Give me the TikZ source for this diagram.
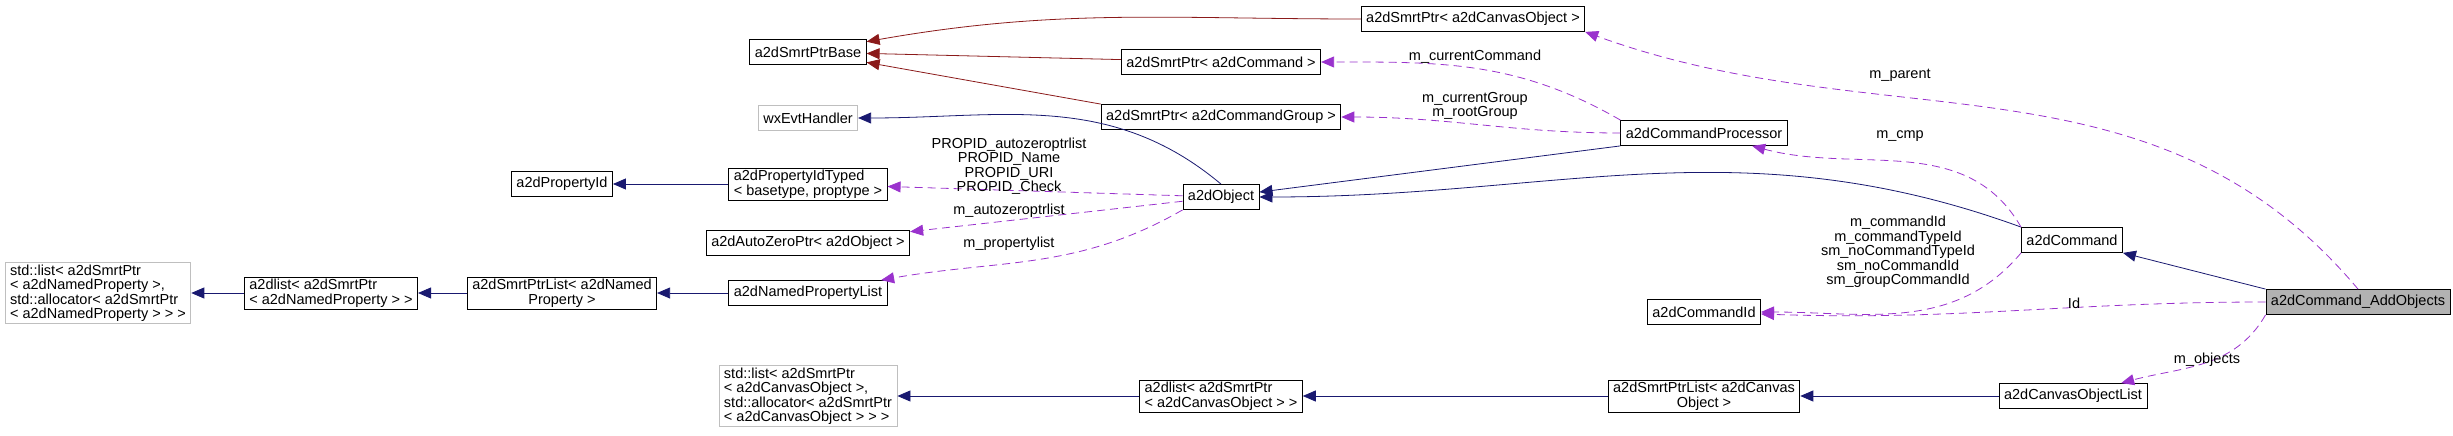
\documentclass[tikz,border=0pt]{standalone}
\usepackage{fontspec}
\setmainfont{Liberation Sans}
\usetikzlibrary{arrows.meta}
\definecolor{inhblue}{HTML}{191970}
\definecolor{tmplred}{HTML}{8B1A1A}
\definecolor{usepurple}{HTML}{9A32CD}
\tikzset{
  cls/.style={draw, thick, fill=white, minimum height=25pt, inner xsep=5pt, inner ysep=2pt, font=\fontsize{14.5}{14.5}\selectfont},
  ext/.style={cls, draw=gray!50},
  main/.style={cls, fill=gray!60},
  inh/.style={-{Triangle[length=13pt,width=11pt]}, thick, inhblue},
  tmpl/.style={-{Triangle[length=13pt,width=11pt]}, thick, tmplred},
  use/.style={-{Triangle[length=13pt,width=11pt]}, thick, dashed, dash pattern=on 8pt off 5pt, usepurple},
  lbl/.style={font=\fontsize{14.5}{14.5}\selectfont, align=center, inner sep=0pt}
}
\begin{document}
\begin{tikzpicture}[x=1pt, y=1pt]
\useasboundingbox (0,0) rectangle (2453,-436);

	% left column
	\node [ext, align=left] (stdlistNP) at (98,-293) {std::list< a2dSmrtPtr\\< a2dNamedProperty >,\\ std::allocator< a2dSmrtPtr\\< a2dNamedProperty > > >};
	\node [cls, align=left] (listNP) at (331,-293) {a2dlist< a2dSmrtPtr\\< a2dNamedProperty > >};
	\node [cls, align=center] (ptrlistNP) at (562,-293) {a2dSmrtPtrList< a2dNamed\\Property >};
	\node [cls] (propid) at (562,-184) {a2dPropertyId};

	% second column
	\node [cls] (ptrbase) at (808,-52) {a2dSmrtPtrBase};
	\node [ext] (evt) at (808,-118) {wxEvtHandler};
	\node [cls, align=left] (propidtyped) at (808,-184) {a2dPropertyIdTyped\\< basetype, proptype >};
	\node [cls] (autozero) at (808,-243) {a2dAutoZeroPtr< a2dObject >};
	\node [cls] (proplist) at (808,-293) {a2dNamedPropertyList};
	\node [ext, align=left] (stdlistCO) at (808,-396) {std::list< a2dSmrtPtr\\< a2dCanvasObject >,\\ std::allocator< a2dSmrtPtr\\< a2dCanvasObject > > >};

	% third column
	\node [cls] (ptrcmd) at (1221,-62) {a2dSmrtPtr< a2dCommand >};
	\node [cls] (ptrgroup) at (1221,-117) {a2dSmrtPtr< a2dCommandGroup >};
	\node [cls] (object) at (1221,-197) {a2dObject};
	\node [cls, align=left] (listCO) at (1221,-396) {a2dlist< a2dSmrtPtr\\< a2dCanvasObject > >};
	\node [cls] (ptrcanvas) at (1473,-19) {a2dSmrtPtr< a2dCanvasObject >};

	% right part
	\node [cls] (processor) at (1704,-133) {a2dCommandProcessor};
	\node [cls] (cmdid) at (1704,-312) {a2dCommandId};
	\node [cls, align=center] (ptrlistCO) at (1704,-396) {a2dSmrtPtrList< a2dCanvas\\Object >};
	\node [cls] (command) at (2072,-240) {a2dCommand};
	\node [cls] (objlist) at (2073,-396) {a2dCanvasObjectList};
	\node [main] (addobj) at (2358,-302) {a2dCommand\_AddObjects};

	% template relations
	\draw [tmpl] (ptrcanvas) to[out=180,in=10] (ptrbase);
	\draw [tmpl] (ptrcmd) -- (ptrbase);
	\draw [tmpl] (ptrgroup.north west) -- (ptrbase);

	% inheritance
	\draw [inh] (propidtyped) -- (propid);
	\draw [inh] (proplist) -- (ptrlistNP);
	\draw [inh] (ptrlistNP) -- (listNP);
	\draw [inh] (listNP) -- (stdlistNP);
	\draw [inh] (object.north) to[out=140,in=0] (evt);
	\draw [inh] (processor.south west) -- (object);
	\draw [inh] (command.north west) to[out=160,in=0] (object);
	\draw [inh] (addobj.north west) -- (command);
	\draw [inh] (objlist) -- (ptrlistCO);
	\draw [inh] (ptrlistCO) -- (listCO);
	\draw [inh] (listCO) -- (stdlistCO);

	% usage
	\draw [use] (object) -- (propidtyped);
	\draw [use] (object) -- (autozero);
	\draw [use] (object.south west) to[out=-150,in=10] (proplist);
	\draw [use] (processor.north west) to[out=150,in=0] (ptrcmd);
	\draw [use] (processor) to[out=180,in=0] (ptrgroup);
	\draw [use] (command.north west) to[out=120,in=-15] (processor);
	\draw [use] (command.south west) to[out=-130,in=0] (cmdid);
	\draw [use] (addobj) to[out=180,in=-2] (cmdid);
	\draw [use] (addobj.north) to[out=130,in=-20] (ptrcanvas.south east);
	\draw [use] (addobj.south west) to[out=-120,in=15] (objlist);

	% labels
	\node [lbl] (lpropid) at (1009,-166) {PROPID\_autozeroptrlist\\PROPID\_Name\\PROPID\_URI\\PROPID\_Check};
	\node [lbl] (lautozero) at (1009,-211) {m\_autozeroptrlist};
	\node [lbl] (lproplist) at (1009,-244) {m\_propertylist};
	\node [lbl] (lcurcmd) at (1475,-57) {m\_currentCommand};
	\node [lbl] (lgroup) at (1475,-106) {m\_currentGroup\\m\_rootGroup};
	\node [lbl] (lparent) at (1900,-75) {m\_parent};
	\node [lbl] (lcmp) at (1900,-136) {m\_cmp};
	\node [lbl] (lcmdid) at (1898,-252) {m\_commandId\\m\_commandTypeId\\sm\_noCommandTypeId\\sm\_noCommandId\\sm\_groupCommandId};
	\node [lbl] (lid) at (2074,-303) {Id};
	\node [lbl] (lobjects) at (2207,-360) {m\_objects};

\end{tikzpicture}
\end{document}
